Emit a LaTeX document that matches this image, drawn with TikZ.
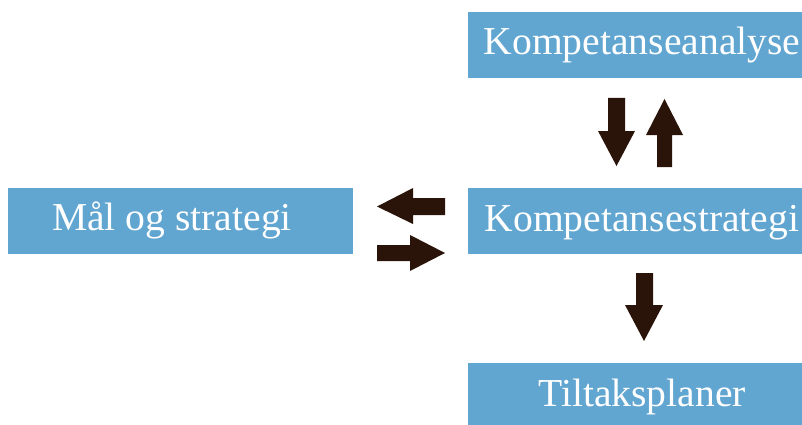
\documentclass[tikz,border=0pt]{standalone}
\usepackage{fontspec}
\setmainfont{Liberation Serif}
\definecolor{boxblue}{RGB}{97,165,209}
\definecolor{arrowbrown}{RGB}{42,20,9}
\begin{document}
\begin{tikzpicture}[x=1pt,y=-1pt,
  stepbox/.style={fill=boxblue, text=white, inner sep=0pt,
    minimum height=66pt, text height=27.7pt, text depth=7.7pt,
    font=\fontsize{39.6}{44}\selectfont},
  blockarrow/.style={fill=arrowbrown, draw=none}]
\clip (0,0) rectangle (802,425);
\fill[white] (0,0) rectangle (802,425);

% boxes
\node[stepbox, minimum width=348pt] (ana)  at (642,45)    {Kompetanseanalyse};
\node[stepbox, minimum width=348pt] (str)  at (642,221)   {Kompetansestrategi};
\node[stepbox, minimum width=345pt] (mal)  at (180.5,220.5) {\hspace*{-17pt}Mål og strategi};
\node[stepbox, minimum width=348pt] (tilt) at (642,396)   {Tiltaksplaner};

% block arrows between analysis and strategy
\fill[blockarrow] (608,98) -- (625,98) -- (625,131) -- (635,131) -- (616.5,166)
  -- (598,131) -- (608,131) -- cycle;
\fill[blockarrow] (657,167) -- (672,167) -- (672,135) -- (683,135) -- (664.5,99)
  -- (646,135) -- (657,135) -- cycle;

% block arrows between goals and strategy
\fill[blockarrow] (445,198) -- (445,215) -- (413,215) -- (413,224) -- (377,206.5)
  -- (413,188) -- (413,198) -- cycle;
\fill[blockarrow] (377,245) -- (410,245) -- (410,235) -- (445,253) -- (410,271)
  -- (410,261) -- (377,261) -- cycle;

% block arrow from strategy to action plans
\fill[blockarrow] (636,273) -- (653,273) -- (653,305) -- (663,305) -- (644,341)
  -- (625,305) -- (636,305) -- cycle;
\end{tikzpicture}
\end{document}
